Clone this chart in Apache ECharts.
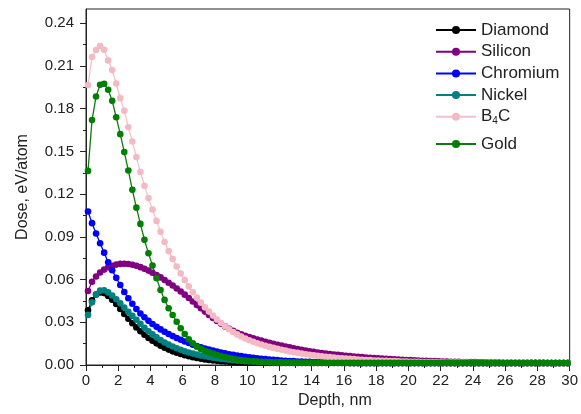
<!DOCTYPE html>
<html>
<head>
<meta charset="utf-8">
<script src="https://cdn.jsdelivr.net/npm/echarts@6/dist/echarts.min.js"></script>
<style>
  html, body { margin: 0; padding: 0; background: #fff; }
  #chart { width: 581px; height: 414px; }
</style>
</head>
<body>
<div id="chart"></div>
<script>
// Depth bins (nm), one point per 0.25 nm bin centre
const depth = [
  0.125,0.375,0.625,0.875,1.125,1.375,1.625,1.875,2.125,2.375,
  2.625,2.875,3.125,3.375,3.625,3.875,4.125,4.375,4.625,4.875,
  5.125,5.375,5.625,5.875,6.125,6.375,6.625,6.875,7.125,7.375,
  7.625,7.875,8.125,8.375,8.625,8.875,9.125,9.375,9.625,9.875,
  10.125,10.375,10.625,10.875,11.125,11.375,11.625,11.875,12.125,12.375,
  12.625,12.875,13.125,13.375,13.625,13.875,14.125,14.375,14.625,14.875,
  15.125,15.375,15.625,15.875,16.125,16.375,16.625,16.875,17.125,17.375,
  17.625,17.875,18.125,18.375,18.625,18.875,19.125,19.375,19.625,19.875,
  20.125,20.375,20.625,20.875,21.125,21.375,21.625,21.875,22.125,22.375,
  22.625,22.875,23.125,23.375,23.625,23.875,24.125,24.375,24.625,24.875,
  25.125,25.375,25.625,25.875,26.125,26.375,26.625,26.875,27.125,27.375,
  27.625,27.875,28.125,28.375,28.625,28.875,29.125,29.375,29.625,29.875
];

// Dose per material (eV/atom)
const diamond = [
  0.0385,0.0455,0.0495,0.0510,0.0505,0.0485,0.0458,0.0428,0.0393,0.0358,
  0.0325,0.0293,0.0264,0.0237,0.0212,0.0190,0.0170,0.0152,0.0136,0.0121,
  0.0108,0.0096,0.0086,0.0077,0.0069,0.0061,0.0055,0.0049,0.0044,0.0039,
  0.0035,0.0032,0.0029,0.0027,0.0025,0.0023,0.0021,0.0020,0.0019,0.0018,
  0.0017,0.0017,0.0016,0.0016,0.0015,0.0015,0.0015,0.0014,0.0014,0.0014,
  0.0014,0.0014,0.0014,0.0014,0.0014,0.0014,0.0014,0.0014,0.0014,0.0014,
  0.0014,0.0014,0.0014,0.0014,0.0014,0.0013,0.0013,0.0013,0.0013,0.0013,
  0.0013,0.0013,0.0013,0.0013,0.0013,0.0013,0.0013,0.0013,0.0013,0.0013,
  0.0013,0.0013,0.0013,0.0013,0.0013,0.0013,0.0013,0.0013,0.0013,0.0013,
  0.0013,0.0013,0.0013,0.0013,0.0013,0.0013,0.0013,0.0013,0.0013,0.0013,
  0.0013,0.0013,0.0013,0.0013,0.0013,0.0013,0.0013,0.0013,0.0013,0.0013,
  0.0013,0.0013,0.0013,0.0013,0.0013,0.0013,0.0013,0.0013,0.0013,0.0013
];
const silicon = [
  0.0520,0.0585,0.0622,0.0650,0.0670,0.0686,0.0697,0.0705,0.0710,0.0711,
  0.0709,0.0704,0.0697,0.0687,0.0676,0.0663,0.0648,0.0632,0.0615,0.0597,
  0.0578,0.0558,0.0537,0.0516,0.0494,0.0471,0.0446,0.0422,0.0398,0.0375,
  0.0352,0.0330,0.0309,0.0289,0.0271,0.0255,0.0240,0.0227,0.0215,0.0205,
  0.0196,0.0187,0.0179,0.0171,0.0163,0.0156,0.0149,0.0142,0.0136,0.0130,
  0.0124,0.0118,0.0112,0.0107,0.0102,0.0097,0.0092,0.0088,0.0084,0.0080,
  0.0077,0.0074,0.0071,0.0068,0.0065,0.0062,0.0060,0.0057,0.0055,0.0053,
  0.0051,0.0049,0.0047,0.0045,0.0043,0.0041,0.0040,0.0038,0.0037,0.0035,
  0.0034,0.0033,0.0031,0.0030,0.0029,0.0028,0.0027,0.0026,0.0025,0.0024,
  0.0023,0.0023,0.0022,0.0021,0.0021,0.0020,0.0020,0.0019,0.0019,0.0018,
  0.0017,0.0017,0.0017,0.0016,0.0016,0.0016,0.0016,0.0015,0.0015,0.0015,
  0.0015,0.0015,0.0015,0.0015,0.0014,0.0014,0.0014,0.0014,0.0014,0.0014
];
const chromium = [
  0.1078,0.0996,0.0923,0.0855,0.0789,0.0722,0.0665,0.0612,0.0562,0.0513,
  0.0469,0.0430,0.0393,0.0362,0.0335,0.0310,0.0288,0.0268,0.0250,0.0233,
  0.0218,0.0203,0.0190,0.0177,0.0165,0.0154,0.0143,0.0133,0.0124,0.0116,
  0.0108,0.0101,0.0094,0.0088,0.0082,0.0076,0.0071,0.0066,0.0062,0.0058,
  0.0054,0.0050,0.0047,0.0044,0.0041,0.0038,0.0036,0.0034,0.0032,0.0030,
  0.0028,0.0027,0.0025,0.0024,0.0023,0.0022,0.0021,0.0020,0.0019,0.0018,
  0.0018,0.0017,0.0017,0.0016,0.0016,0.0016,0.0015,0.0015,0.0015,0.0015,
  0.0015,0.0015,0.0015,0.0015,0.0015,0.0015,0.0015,0.0015,0.0015,0.0015,
  0.0015,0.0015,0.0015,0.0015,0.0015,0.0015,0.0015,0.0015,0.0015,0.0015,
  0.0014,0.0014,0.0014,0.0014,0.0014,0.0014,0.0014,0.0014,0.0014,0.0014,
  0.0014,0.0014,0.0014,0.0014,0.0014,0.0014,0.0014,0.0014,0.0014,0.0014,
  0.0014,0.0014,0.0014,0.0014,0.0014,0.0014,0.0014,0.0014,0.0014,0.0014
];
const nickel = [
  0.0352,0.0440,0.0495,0.0522,0.0525,0.0510,0.0488,0.0462,0.0433,0.0403,
  0.0373,0.0345,0.0318,0.0290,0.0262,0.0237,0.0215,0.0194,0.0175,0.0158,
  0.0143,0.0130,0.0118,0.0107,0.0097,0.0088,0.0080,0.0073,0.0067,0.0061,
  0.0056,0.0051,0.0047,0.0043,0.0040,0.0037,0.0034,0.0031,0.0029,0.0027,
  0.0025,0.0024,0.0022,0.0021,0.0020,0.0019,0.0018,0.0017,0.0017,0.0016,
  0.0016,0.0016,0.0016,0.0016,0.0016,0.0016,0.0016,0.0016,0.0016,0.0016,
  0.0016,0.0016,0.0016,0.0016,0.0016,0.0016,0.0016,0.0016,0.0016,0.0016,
  0.0015,0.0015,0.0015,0.0015,0.0015,0.0015,0.0015,0.0015,0.0015,0.0015,
  0.0015,0.0015,0.0015,0.0015,0.0015,0.0015,0.0015,0.0015,0.0015,0.0015,
  0.0015,0.0015,0.0015,0.0015,0.0015,0.0015,0.0015,0.0015,0.0015,0.0015,
  0.0014,0.0014,0.0014,0.0014,0.0014,0.0014,0.0014,0.0014,0.0014,0.0014,
  0.0014,0.0014,0.0014,0.0014,0.0014,0.0014,0.0014,0.0014,0.0014,0.0014
];
const b4c = [
  0.1966,0.2163,0.2212,0.2240,0.2214,0.2139,0.2071,0.1977,0.1874,0.1785,
  0.1670,0.1570,0.1460,0.1355,0.1258,0.1172,0.1092,0.1012,0.0935,0.0864,
  0.0800,0.0745,0.0692,0.0642,0.0596,0.0552,0.0511,0.0473,0.0438,0.0405,
  0.0375,0.0347,0.0320,0.0295,0.0272,0.0251,0.0232,0.0215,0.0200,0.0186,
  0.0174,0.0163,0.0153,0.0144,0.0135,0.0127,0.0120,0.0113,0.0107,0.0101,
  0.0095,0.0090,0.0085,0.0080,0.0076,0.0072,0.0068,0.0064,0.0061,0.0058,
  0.0055,0.0052,0.0049,0.0047,0.0045,0.0043,0.0041,0.0039,0.0037,0.0035,
  0.0034,0.0032,0.0031,0.0030,0.0029,0.0028,0.0027,0.0026,0.0025,0.0024,
  0.0023,0.0023,0.0022,0.0021,0.0021,0.0020,0.0020,0.0019,0.0019,0.0018,
  0.0018,0.0018,0.0017,0.0017,0.0017,0.0016,0.0016,0.0016,0.0016,0.0015,
  0.0015,0.0015,0.0015,0.0015,0.0015,0.0015,0.0015,0.0015,0.0015,0.0015,
  0.0014,0.0014,0.0014,0.0014,0.0014,0.0014,0.0014,0.0014,0.0014,0.0014
];
const gold = [
  0.1363,0.1720,0.1886,0.1968,0.1975,0.1933,0.1855,0.1740,0.1621,0.1495,
  0.1366,0.1230,0.1105,0.0991,0.0879,0.0785,0.0698,0.0610,0.0527,0.0457,
  0.0398,0.0351,0.0304,0.0258,0.0218,0.0181,0.0153,0.0129,0.0113,0.0100,
  0.0090,0.0080,0.0071,0.0063,0.0056,0.0049,0.0043,0.0038,0.0034,0.0031,
  0.0028,0.0026,0.0024,0.0022,0.0021,0.0020,0.0019,0.0018,0.0018,0.0017,
  0.0017,0.0017,0.0016,0.0016,0.0016,0.0016,0.0015,0.0015,0.0015,0.0015,
  0.0015,0.0015,0.0015,0.0015,0.0015,0.0015,0.0015,0.0015,0.0015,0.0015,
  0.0015,0.0015,0.0015,0.0015,0.0015,0.0015,0.0015,0.0015,0.0015,0.0015,
  0.0015,0.0015,0.0015,0.0015,0.0015,0.0015,0.0015,0.0015,0.0015,0.0015,
  0.0014,0.0014,0.0014,0.0014,0.0014,0.0014,0.0014,0.0014,0.0014,0.0014,
  0.0014,0.0014,0.0014,0.0014,0.0014,0.0014,0.0014,0.0014,0.0014,0.0014,
  0.0014,0.0014,0.0014,0.0014,0.0014,0.0014,0.0014,0.0014,0.0014,0.0014
];

// Axis tick positions
const yTicks = [0, 0.03, 0.06, 0.09, 0.12, 0.15, 0.18, 0.21, 0.24];
const yMinorTicks = [0.015, 0.045, 0.075, 0.105, 0.135, 0.165, 0.195, 0.225];

const FONT = '"Liberation Sans", Arial, sans-serif';
const INK = '#222';

function lineSeries(name, values, color, lineColor) {
  return {
    name: name,
    type: 'line',
    data: depth.map((d, i) => [d, values[i]]),
    symbol: 'circle',
    symbolSize: 6.6,
    showAllSymbol: true,
    clip: true,
    lineStyle: { color: lineColor || color, width: 1.3 },
    itemStyle: { color: color },
    emphasis: { disabled: true }
  };
}

const legendText = {
  fontFamily: FONT, fontSize: 17, color: INK, lineHeight: 18,
  rich: { sub: { fontFamily: FONT, fontSize: 10, color: INK, lineHeight: 18, verticalAlign: 'bottom' } }
};
const legendFormatter = n => n === 'B4C' ? 'B{sub|4}C' : n;

const chart = echarts.init(document.getElementById('chart'), null, { renderer: 'canvas' });
chart.setOption({
  animation: false,
  backgroundColor: '#fff',
  grid: { left: 86, right: 9, top: 9, bottom: 49, show: true, borderColor: INK, borderWidth: 1, backgroundColor: 'transparent' },
  legend: [
    {
      data: ['Diamond', 'Silicon', 'Chromium', 'Nickel', 'B4C'],
      orient: 'vertical', left: 430, top: 16, padding: 5,
      itemWidth: 40, itemHeight: 10, itemGap: 3.7,
      textStyle: legendText, formatter: legendFormatter,
      selectedMode: false
    },
    {
      data: ['Gold'],
      orient: 'vertical', left: 430, top: 130, padding: 5,
      itemWidth: 40, itemHeight: 10,
      textStyle: legendText, formatter: legendFormatter,
      selectedMode: false
    }
  ],
  xAxis: {
    type: 'value', min: 0, max: 30, interval: 2,
    name: 'Depth, nm', nameLocation: 'middle', nameGap: 28,
    nameTextStyle: { fontFamily: FONT, fontSize: 16, color: INK, padding: [0, 0, 0, 14] },
    axisLine: { show: true, lineStyle: { color: INK, width: 1 } },
    axisTick: { show: true, inside: false, length: 6, lineStyle: { color: INK } },
    minorTick: { show: true, splitNumber: 2, length: 3, lineStyle: { color: INK } },
    axisLabel: { fontFamily: FONT, fontSize: 15, color: INK, margin: 8 },
    splitLine: { show: false }
  },
  yAxis: [
    {
      type: 'value', min: 0, max: 0.25,
      name: 'Dose, eV/atom', nameLocation: 'middle', nameGap: 55,
      nameTextStyle: { fontFamily: FONT, fontSize: 16, color: INK },
      axisLine: { show: true, lineStyle: { color: INK, width: 1 } },
      axisTick: { show: true, inside: false, length: 6, customValues: yTicks, lineStyle: { color: INK } },
      axisLabel: { fontFamily: FONT, fontSize: 15, color: INK, margin: 12, customValues: yTicks, formatter: v => v.toFixed(2) },
      splitLine: { show: false }
    },
    {
      type: 'value', min: 0, max: 0.25, position: 'left',
      axisLine: { show: false },
      axisTick: { show: true, inside: false, length: 3, customValues: yMinorTicks, lineStyle: { color: INK } },
      axisLabel: { show: false },
      splitLine: { show: false }
    }
  ],
  series: [
    lineSeries('Diamond', diamond, '#000000'),
    lineSeries('Silicon', silicon, '#800080'),
    lineSeries('Chromium', chromium, '#0000ff'),
    lineSeries('Nickel', nickel, '#008080'),
    lineSeries('B4C', b4c, '#f4bac4', '#f2c2cb'),
    lineSeries('Gold', gold, '#008000', '#107a10')
  ]
});
</script>
</body>
</html>
